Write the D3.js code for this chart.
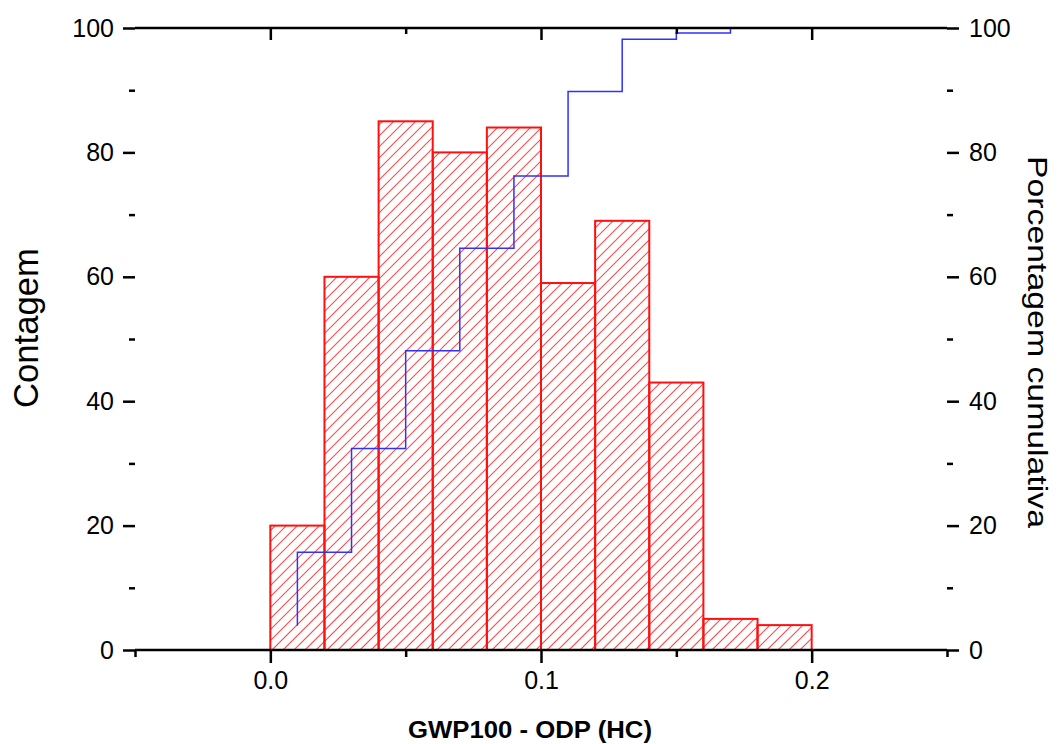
<!DOCTYPE html>
<html><head><meta charset="utf-8">
<script src="https://cdn.jsdelivr.net/npm/d3@7"></script>
<style>body{margin:0;background:#fff;} text{font-family:"Liberation Sans",Arial,sans-serif;}</style>
</head><body>
<svg id="c" width="1058" height="744"></svg>
<script>
const binStarts = [0.00,0.02,0.04,0.06,0.08,0.10,0.12,0.14,0.16,0.18];
const binWidth = 0.02;
const counts = [20,60,85,80,84,59,69,43,5,4];
const cumulative = [3.9,15.7,32.4,48.1,64.6,76.2,89.8,98.2,99.2,100];
const xTicks = [0.0,0.1,0.2];
const yTicks = [0,20,40,60,80,100];

const svg = d3.select("#c");
const L=135, R=947, T=28, B=650;
const x = d3.scaleLinear().domain([-0.05,0.25]).range([L,R]);
const y = d3.scaleLinear().domain([0,100]).range([B,T]);
const y2 = d3.scaleLinear().domain([0,100]).range([B,T]);

const barX = (d,i)=>x(binStarts[i]);
const barW = (d,i)=>x(binStarts[i]+binWidth)-x(binStarts[i]);

const defs = svg.append("defs");
const clip = defs.append("clipPath").attr("id","barsclip");
clip.selectAll("rect").data(counts).join("rect")
  .attr("x",barX).attr("y",d=>y(d)).attr("width",barW).attr("height",d=>B-y(d));

// hatch lines clipped to the bars
const H = B-T, step = 11;
const offs = d3.range(L-H, R+step, step);
svg.append("g").attr("clip-path","url(#barsclip)").selectAll("line").data(offs).join("line")
  .attr("x1",d=>d).attr("y1",B).attr("x2",d=>d+H).attr("y2",T)
  .attr("stroke","#ff4a4a").attr("stroke-width",1.1);

svg.append("g").selectAll("rect").data(counts).join("rect")
  .attr("x",barX).attr("y",d=>y(d)).attr("width",barW).attr("height",d=>B-y(d))
  .attr("fill","none").attr("stroke","#ff1010").attr("stroke-width",2);

const line = d3.line().x((d,i)=>x(binStarts[i]+binWidth/2)).y(d=>y2(d)).curve(d3.curveStepBefore);
svg.append("path").attr("d",line(cumulative)).attr("fill","none")
  .attr("stroke","#3030ff").attr("stroke-width",1.5);

// frame
svg.append("line").attr("x1",L).attr("x2",R).attr("y1",T).attr("y2",T).attr("stroke","#000").attr("stroke-width",2.5);
svg.append("line").attr("x1",L).attr("x2",R).attr("y1",B).attr("y2",B).attr("stroke","#000").attr("stroke-width",2.5);

const fmt = d3.format(".1f");
const gx = svg.append("g").attr("transform",`translate(0,${B})`)
  .call(d3.axisBottom(x).tickValues(xTicks).tickFormat(fmt).tickSize(13).tickSizeOuter(0).tickPadding(8));
gx.append("g").call(d3.axisBottom(x).tickValues([-0.05,0.05,0.15,0.25]).tickFormat("").tickSize(7).tickSizeOuter(0));
const gt = svg.append("g").attr("transform",`translate(0,${T})`)
  .call(d3.axisBottom(x).tickValues(xTicks).tickFormat("").tickSize(12).tickSizeOuter(0));
gt.append("g").call(d3.axisBottom(x).tickValues([0.05,0.15]).tickFormat("").tickSize(6).tickSizeOuter(0));
const gy = svg.append("g").attr("transform",`translate(${L},0)`)
  .call(d3.axisLeft(y).tickValues(yTicks).tickSize(12).tickSizeOuter(0).tickPadding(9));
gy.append("g").call(d3.axisLeft(y).tickValues([10,30,50,70,90]).tickFormat("").tickSize(6).tickSizeOuter(0));
const gr = svg.append("g").attr("transform",`translate(${R},0)`)
  .call(d3.axisRight(y2).tickValues(yTicks).tickSize(12).tickSizeOuter(0).tickPadding(10));
gr.append("g").call(d3.axisRight(y2).tickValues([10,30,50,70,90]).tickFormat("").tickSize(6).tickSizeOuter(0));

svg.selectAll(".domain").attr("stroke","#000").attr("stroke-width",2.5);
svg.selectAll(".tick line").attr("stroke","#000").attr("stroke-width",2.5);
svg.selectAll(".tick text").attr("font-size",25).attr("font-family","Liberation Sans, Arial, sans-serif").attr("fill","#000");
gt.selectAll(".domain").remove();
gx.selectAll("g .domain").remove();
gy.selectAll("g .domain").remove();
gr.selectAll("g .domain").remove();
gx.selectAll(".tick text").attr("dy","0.72em");

svg.append("text").attr("transform","translate(38,328) rotate(-90)").attr("text-anchor","middle")
  .attr("font-size",35).attr("textLength",160).attr("lengthAdjust","spacingAndGlyphs").text("Contagem");
svg.append("text").attr("transform","translate(1028,342) rotate(90)").attr("text-anchor","middle")
  .attr("font-size",27).attr("textLength",372).attr("lengthAdjust","spacingAndGlyphs").text("Porcentagem cumulativa");
svg.append("text").attr("x",530).attr("y",738).attr("text-anchor","middle")
  .attr("font-size",24).attr("font-weight","bold").attr("textLength",244).attr("lengthAdjust","spacingAndGlyphs").text("GWP100 - ODP (HC)");
</script>
</body></html>
